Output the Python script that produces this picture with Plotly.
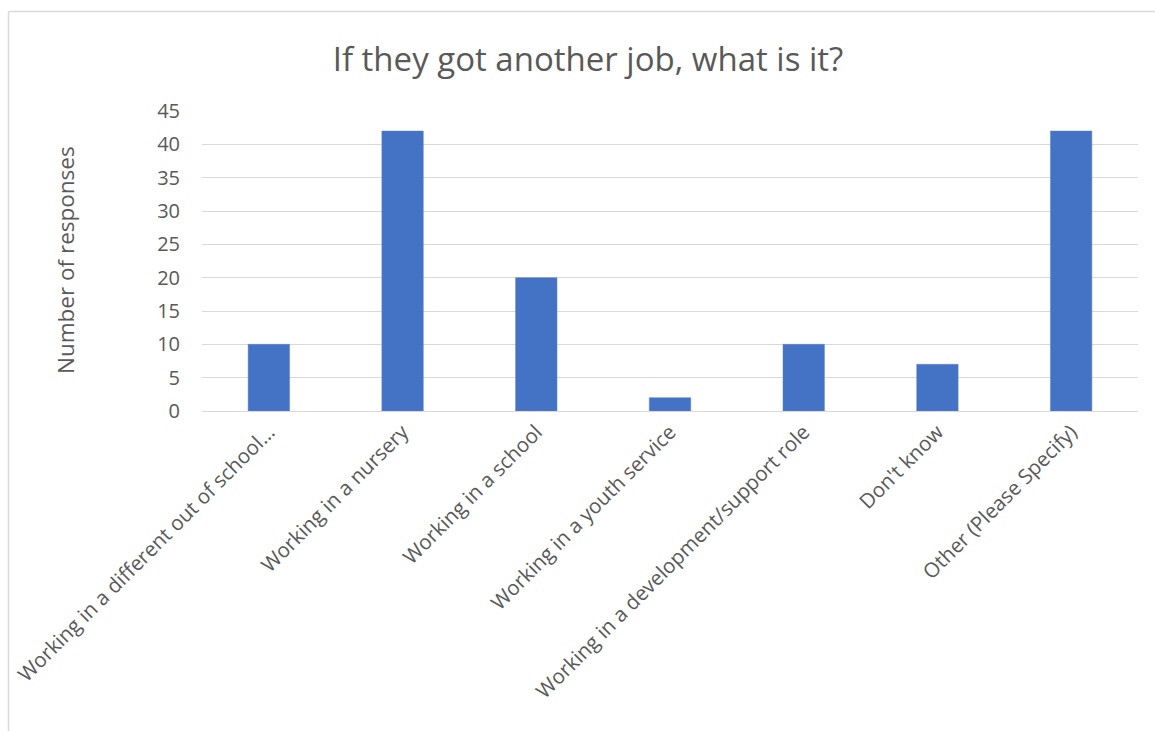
import plotly.graph_objects as go

categories = [
    "Working in a different out of school...",
    "Working in a nursery",
    "Working in a school",
    "Working in a youth service",
    "Working in a development/support role",
    "Don't know",
    "Other (Please Specify)",
]
responses = [10, 42, 20, 2, 10, 7, 42]
y_ticks = [0, 5, 10, 15, 20, 25, 30, 35, 40, 45]

W, H = 1155, 731
L, R, T, B = 202, 17, 111, 320
pw, ph = W - L - R, H - T - B

FONT = "Open Sans, Liberation Sans, sans-serif"
TXT = "#595959"
GRID = "#d9d9d9"

fig = go.Figure(
    go.Bar(
        x=categories,
        y=responses,
        marker=dict(color="#4472c4", line=dict(color="#5b84cc", width=0.5)),
        width=0.31,
    )
)

def px_x(p):
    return (p - L) / pw

def px_y(p):
    return (H - B - p) / ph

# chart frame (left and top edges)
fig.add_shape(type="line", xref="paper", yref="paper",
              x0=px_x(8.5), x1=px_x(8.5), y0=px_y(11.5), y1=px_y(740),
              line=dict(color=GRID, width=1.5))
fig.add_shape(type="line", xref="paper", yref="paper",
              x0=px_x(8.5), x1=px_x(1160), y0=px_y(11.5), y1=px_y(11.5),
              line=dict(color=GRID, width=1.5))

fig.add_annotation(
    text="Number of responses", textangle=-90, showarrow=False,
    xref="paper", yref="paper", x=px_x(65), y=px_y(260),
    xanchor="center", yanchor="middle",
    font=dict(family=FONT, size=22.5, color=TXT),
)

fig.update_layout(
    width=W, height=H,
    margin=dict(l=L, r=R, t=T, b=B, autoexpand=False),
    paper_bgcolor="white", plot_bgcolor="white",
    showlegend=False,
    title=dict(
        text="If they got another job, what is it?",
        x=588 / W, xanchor="center", y=1 - 59 / H, yanchor="middle",
        font=dict(family=FONT, size=33, color=TXT),
    ),
    font=dict(family=FONT, color=TXT),
)
fig.update_xaxes(
    tickangle=-45, tickfont=dict(size=20.5, color=TXT),
    showgrid=False, showline=True, linecolor=GRID, linewidth=1,
    ticks="", automargin=False,
)
fig.update_yaxes(
    range=[0, 45], tickvals=y_ticks, tickfont=dict(size=20, color=TXT),
    showgrid=True, gridcolor=GRID, gridwidth=1,
    zeroline=True, zerolinecolor=GRID, zerolinewidth=1,
    showline=False, ticks="outside", ticklen=17, tickcolor="rgba(0,0,0,0)",
    automargin=False,
)

fig.write_html("out.html")
